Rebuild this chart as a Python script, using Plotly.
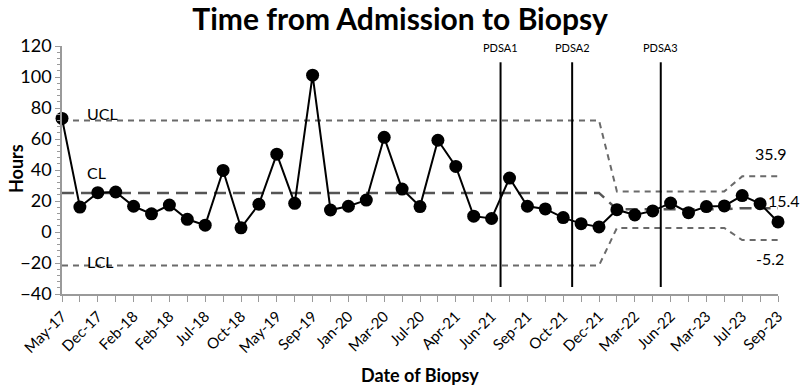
import plotly.graph_objects as go

hours = [73.3, 16.1, 25.4, 25.8, 16.6, 11.7, 17.4, 8.2, 4.4, 39.7,
         2.7, 17.9, 50.2, 18.5, 101.2, 14.2, 16.6, 20.6, 61.1, 27.7,
         16.4, 59.2, 42.3, 10.2, 8.7, 34.8, 16.6, 14.9, 9.3, 5.4,
         3.3, 14.4, 11.0, 13.6, 18.7, 12.5, 16.4, 16.8, 23.5, 18.3, 6.5]
ucl = [72.0] * 31 + [26.2] * 7 + [35.9] * 3
cl = [25.2] * 31 + [14.6] * 7 + [15.4] * 3
lcl = [-21.6] * 31 + [2.6] * 7 + [-5.2] * 3
tick_labels = ["May-17", "Dec-17", "Feb-18", "Feb-18", "Jul-18", "Oct-18", "May-19",
               "Sep-19", "Jan-20", "Mar-20", "Jul-20", "Apr-21", "Jun-21", "Sep-21",
               "Oct-21", "Dec-21", "Mar-22", "Jun-22", "Mar-23", "Jul-23", "Sep-23"]
pdsa_names = ["PDSA1", "PDSA2", "PDSA3"]
pdsa_pos = [24.5, 28.5, 33.45]
end_labels = ["35.9", "15.4", "-5.2"]

x = list(range(len(hours)))
tickvals = x
ticktext = [tick_labels[i // 2] if i % 2 == 0 else "" for i in x]

FONT = "Lato, Open Sans, sans-serif"

fig = go.Figure()
fig.add_trace(go.Scatter(x=x, y=ucl, mode="lines",
                         line=dict(color="#6a6a6a", width=2, dash="6px,5px"),
                         hoverinfo="skip", cliponaxis=False))
fig.add_trace(go.Scatter(x=x, y=lcl, mode="lines",
                         line=dict(color="#6a6a6a", width=2, dash="6px,5px"),
                         hoverinfo="skip", cliponaxis=False))
fig.add_trace(go.Scatter(x=x, y=cl, mode="lines",
                         line=dict(color="#555555", width=2.5, dash="12px,7px"),
                         hoverinfo="skip", cliponaxis=False))
fig.add_trace(go.Scatter(x=x, y=hours, mode="lines+markers",
                         line=dict(color="black", width=2),
                         marker=dict(color="black", size=13),
                         cliponaxis=False))

for name, pos in zip(pdsa_names, pdsa_pos):
    fig.add_shape(type="line", xref="x", yref="y", x0=pos, x1=pos, y0=-35.5, y1=109.5,
                  line=dict(color="black", width=2))
    fig.add_annotation(x=pos, y=119.2, xref="x", yref="y", text=name, showarrow=False,
                       font=dict(family=FONT, size=11, color="black"))

lab_font = dict(family=FONT, size=16, color="black")
title_font = dict(family=FONT, size=18, color="black")
fig.add_annotation(x=1.27, y=76.2, text="UCL", xanchor="left", showarrow=False, font=lab_font)
fig.add_annotation(x=1.27, y=38.6, text="CL", xanchor="left", showarrow=False, font=lab_font)
fig.add_annotation(x=1.27, y=-18.8, text="LCL", xanchor="left", showarrow=False, font=lab_font)
fig.add_annotation(x=38.6, y=50.8, text=end_labels[0], xanchor="left", showarrow=False, font=lab_font)
fig.add_annotation(x=39.35, y=20.4, text=end_labels[1], xanchor="left", showarrow=False, font=lab_font)
fig.add_annotation(x=38.65, y=-16.8, text=end_labels[2], xanchor="left", showarrow=False, font=lab_font)

# axis titles
fig.add_annotation(xref="paper", yref="paper", x=(420 - 62) / (778 - 62),
                   y=-(375 - 294) / (294 - 46), xanchor="center", yanchor="middle",
                   text="<b>Date of Biopsy</b>", showarrow=False, font=title_font)
fig.add_annotation(xref="paper", yref="paper", x=-(62 - 16) / (778 - 62),
                   y=(294 - 169) / (294 - 46), xanchor="center", yanchor="middle",
                   text="<b>Hours</b>", textangle=-90, showarrow=False, font=title_font)

fig.update_layout(
    width=800, height=388,
    margin=dict(l=62, r=22, t=46, b=94),
    paper_bgcolor="white", plot_bgcolor="white",
    showlegend=False,
    title=dict(text="<b>Time from Admission to Biopsy</b>", x=0.5, xanchor="center",
               xref="container", yref="container", y=1 - 19 / 388, yanchor="middle",
               font=dict(family=FONT, size=30, color="black")),
    font=dict(family=FONT, color="black"),
)
fig.update_xaxes(range=[0, 40], tickvals=tickvals, ticktext=ticktext, tickangle=-45,
                 showgrid=False, zeroline=False, showline=True, linecolor="#9a9a9a",
                 linewidth=1.5, ticks="outside", ticklen=6, tickcolor="#9a9a9a",
                 tickfont=dict(family=FONT, size=15, color="black"), automargin=False)
fig.update_yaxes(range=[-40, 120], dtick=20, showgrid=False, zeroline=False,
                 showline=True, linecolor="#9a9a9a", linewidth=1.5, ticks="outside",
                 ticklen=5, tickcolor="#9a9a9a",
                 minor=dict(dtick=4, ticks="outside", ticklen=3, tickcolor="#9a9a9a"),
                 tickfont=dict(family=FONT, size=18, color="black"), automargin=False)

fig.write_html("out.html")
